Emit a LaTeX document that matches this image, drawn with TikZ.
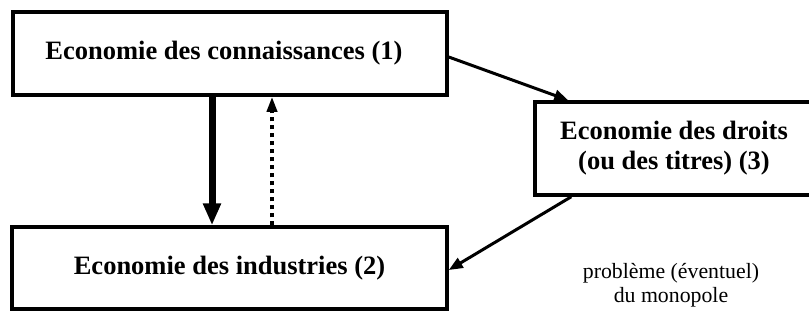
\documentclass[tikz,border=0pt]{standalone}
\usepackage{fontspec}
\setmainfont{Liberation Serif}
\usetikzlibrary{arrows.meta}
\tikzset{
  boite/.style={draw, line width=3.5pt, inner sep=0pt, align=center,
    font=\bfseries\fontsize{26.5}{30}\selectfont},
  fleche/.style={line width=3pt, -{Triangle[length=14pt,width=11pt]}},
  fleche epaisse/.style={line width=7pt, -{Triangle[length=22pt,width=17pt]}},
  fleche pointillee/.style={line width=3.5pt, dash pattern=on 4pt off 4pt,
    -{Triangle[length=15pt,width=10pt]}}
}
\begin{document}
\begin{tikzpicture}[x=1pt,y=-1pt]
  \useasboundingbox (0,0) rectangle (809,322);
  \draw
    (230,53.5) node[boite, minimum width=434, minimum height=83] (1){\hspace*{-12pt}Economie des connaissances (1)}
    (229.5,268) node[boite, minimum width=435, minimum height=82] (2){Economie des industries (2)}
    (674,148.5) node[boite, minimum width=278, minimum height=93] (3){Economie des droits\\(ou des titres) (3)}
    (671,285) node[align=center, font=\fontsize{21.8}{24}\selectfont] (monopole){problème (éventuel)\\du monopole};
  \begin{scope}[fleche]
    \draw ([yshift=-3.5pt]1.east) to ([xshift=35pt]3.north west);
    \draw ([xshift=38pt]3.south west) to ([yshift=-2pt]2.east);
  \end{scope}
  \draw[fleche epaisse] ([xshift=-18pt]1.south) to ([xshift=-17.5pt]2.north);
  \draw[fleche pointillee] ([xshift=42.5pt]2.north) to ([xshift=42pt]1.south);
\end{tikzpicture}
\end{document}
